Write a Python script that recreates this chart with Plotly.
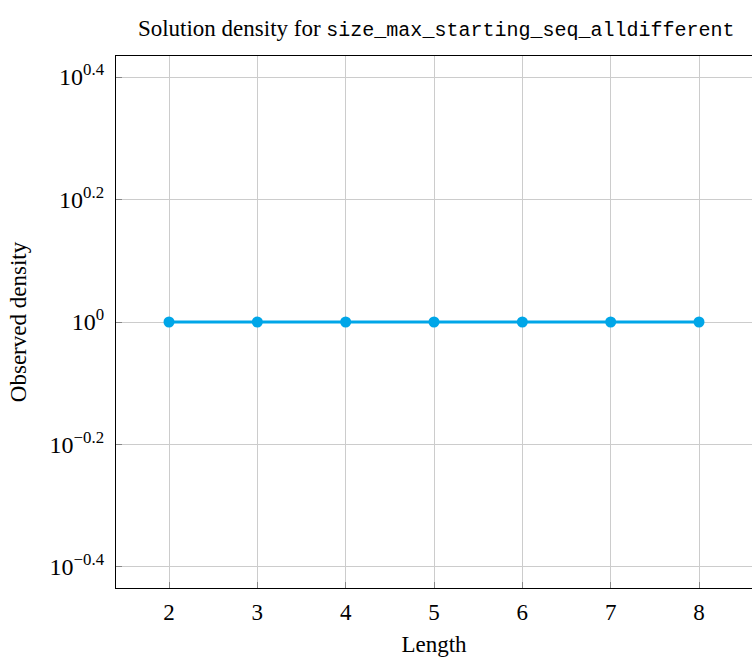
import plotly.graph_objects as go

lengths = [2, 3, 4, 5, 6, 7, 8]
density = [1, 1, 1, 1, 1, 1, 1]
y_tick_vals = [10**-0.4, 10**-0.2, 1, 10**0.2, 10**0.4]
y_tick_text = ["10<sup>\u22120.4</sup>", "10<sup>\u22120.2</sup>", "10<sup>0</sup>",
               "10<sup>0.2</sup>", "10<sup>0.4</sup>"]
x_ticks = [2, 3, 4, 5, 6, 7, 8]

serif = "Liberation Serif, Times New Roman, serif"
mono = "Liberation Mono, DejaVu Sans Mono, monospace"

fig = go.Figure()
fig.add_trace(go.Scatter(
    x=lengths, y=density, mode="lines+markers",
    line=dict(color="#00a6e8", width=3),
    marker=dict(color="#00a6e8", size=11),
    showlegend=False,
))

fig.update_layout(
    width=752, height=665,
    margin=dict(l=116, r=0, t=56, b=77),
    paper_bgcolor="white", plot_bgcolor="white",
    font=dict(family=serif, size=23, color="black"),
    title=dict(
        text="Solution density for <span style=\"font-family:Liberation Mono, monospace;font-size:20px\">size_max_starting_seq_alldifferent</span>",
        x=0.58, xanchor="center", y=0.958, yanchor="middle",
        font=dict(family=serif, size=23, color="black"),
    ),
    xaxis=dict(
        range=[1.4, 8.6], tickvals=x_ticks,
        showgrid=True, gridcolor="#cccccc", gridwidth=1,
        showline=True, linecolor="black", linewidth=1.3, mirror=True,
        ticks="inside", ticklen=6, tickcolor="#888888",
        tickfont=dict(family=serif, size=23),
        ticklabelstandoff=3,
        title=dict(text="Length", font=dict(family=serif, size=23), standoff=12),
        zeroline=False,
    ),
    yaxis=dict(
        type="log", range=[-0.4343, 0.4343],
        tickvals=y_tick_vals, ticktext=y_tick_text,
        showgrid=True, gridcolor="#cccccc", gridwidth=1,
        showline=True, linecolor="black", linewidth=1.3, mirror=True,
        ticks="inside", ticklen=6, tickcolor="#888888",
        tickfont=dict(family=serif, size=24),
        ticklabelstandoff=6,
        title=dict(text="Observed density", font=dict(family=serif, size=23), standoff=16),
        zeroline=False,
    ),
)

fig.write_html("out.html")
